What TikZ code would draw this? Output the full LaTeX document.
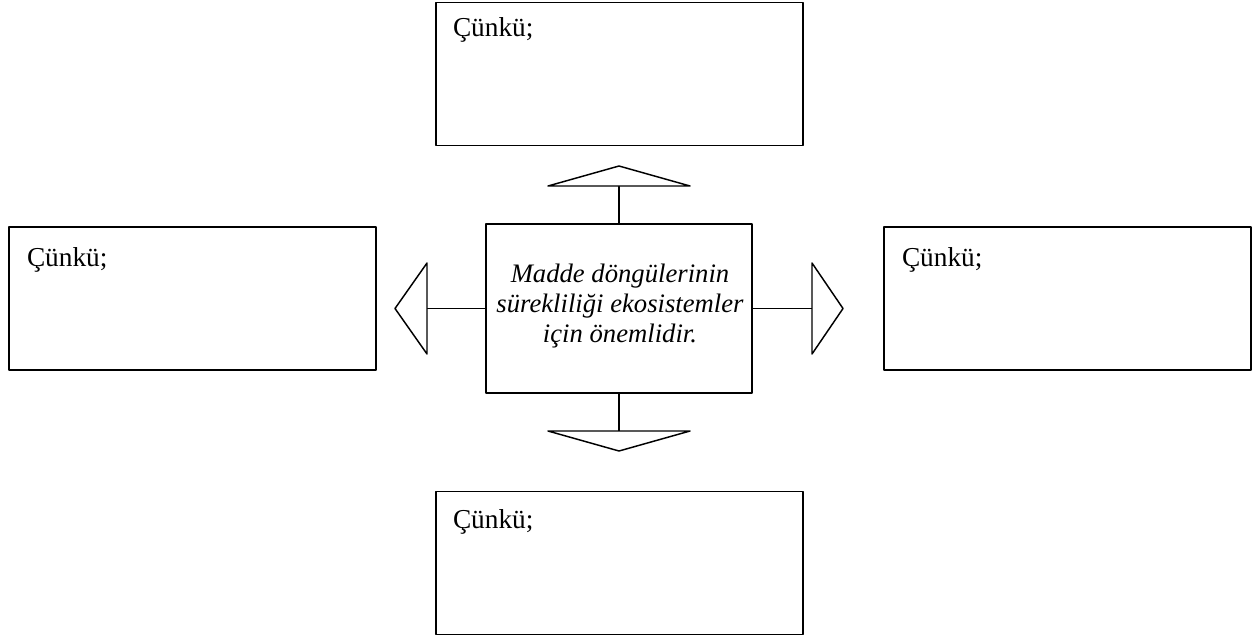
\documentclass[tikz,border=0pt]{standalone}
\usepackage{fontspec}
\setmainfont{Liberation Serif}
\begin{document}
\begin{tikzpicture}[x=0.75pt, y=-0.75pt, line width=1.3pt, line join=round,
  answerbox/.style={draw, inner sep=0pt, minimum width=275.25pt, minimum height=107.25pt},
  mainbox/.style={draw, inner sep=0pt, minimum width=199.5pt, minimum height=126.75pt},
  boxlabel/.style={inner sep=0pt, anchor=base west, font=\fontsize{20.5}{24}\selectfont},
  maintext/.style={inner sep=0pt, align=center, font=\fontsize{20}{22.5}\selectfont\itshape},
  arrowhead/.style={draw, fill=white, line width=1.1pt}]
  \useasboundingbox (0,0) rectangle (1255,639);

  % central statement
  \node[mainbox] (ctr) at (619,308.5) {};
  \node[maintext] (ctrtext) at (620,306) {Madde döngülerinin\\süreklili\u{g}i ekosistemler\\için önemlidir.};

  % four answer boxes
  \node[answerbox] (boxN) at (619.5,74) {};
  \node[answerbox] (boxS) at (619.5,563) {};
  \node[answerbox] (boxW) at (192.5,298.5) {};
  \node[answerbox] (boxE) at (1067.5,298.5) {};

  \node[boxlabel] (txtN) at ([xshift=12.75pt, yshift=-26pt]boxN.north west) {Çünkü;};
  \node[boxlabel] (txtS) at ([xshift=12.75pt, yshift=-28.5pt]boxS.north west) {Çünkü;};
  \node[boxlabel] (txtW) at ([xshift=13.5pt, yshift=-30pt]boxW.north west) {Çünkü;};
  \node[boxlabel] (txtE) at ([xshift=13.5pt, yshift=-30pt]boxE.north west) {Çünkü;};

  % ends of the stems, at the base of each arrow head
  \coordinate (baseN) at (619,186);
  \coordinate (baseS) at (619,431);
  \coordinate (baseW) at (427,308.5);
  \coordinate (baseE) at (812,308.5);

  % stems
  \draw[line width=1.1pt] (ctr.north) -- (baseN);
  \draw[line width=1.1pt] (ctr.south) -- (baseS);
  \draw[line width=1.1pt] (ctr.west) -- (baseW);
  \draw[line width=1.1pt] (ctr.east) -- (baseE);

  % open triangular arrow heads
  \draw[arrowhead] (548,186) -- (690,186) -- (619,166) -- cycle;
  \draw[arrowhead] (548,431) -- (690,431) -- (619,451) -- cycle;
  \draw[arrowhead] (427,263) -- (427,354) -- (395,308.5) -- cycle;
  \draw[arrowhead] (812,263) -- (812,354) -- (843,308.5) -- cycle;
\end{tikzpicture}
\end{document}
